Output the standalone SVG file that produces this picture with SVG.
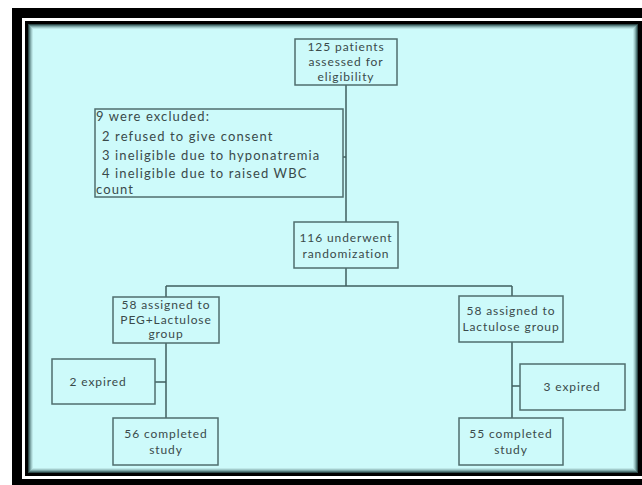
<svg xmlns="http://www.w3.org/2000/svg" width="642" height="485" viewBox="0 0 642 485">
<style>
.box{fill:none;stroke:#4f6e6e;stroke-width:1.5}
.ln{fill:none;stroke:#3f5f5f;stroke-width:1.5}
text{font-family:Lato,"Liberation Sans",sans-serif;font-size:12px;letter-spacing:0.9px;fill:#3a4a4a}
.c{text-anchor:middle}
.x{font-size:13px;letter-spacing:1.1px}
</style>
<rect x="0" y="0" width="642" height="485" fill="#ffffff"/>
<rect x="12" y="8" width="630" height="477" fill="#000000"/>
<rect x="22" y="18" width="620" height="461" fill="#ffffff"/>
<rect x="25" y="21" width="617" height="455" fill="#000000"/>
<rect x="28" y="24" width="610" height="449" fill="#2d4848"/>
<rect x="29" y="25" width="608" height="447" fill="#557c7c"/>
<rect x="30" y="26" width="606" height="445" fill="#7fa8a8"/>
<rect x="31" y="27" width="604" height="443" fill="#a2cccc"/>
<rect x="32" y="28" width="602" height="441" fill="#bde8e8"/>
<rect x="33" y="29" width="600" height="439" fill="#cdfafa"/>
<g id="connectors">
<path class="ln" d="M346 85V222M343 157H346M346 268V286M166 286H512M166 286V297M512 286V296M166 343V418M155 382H166M512 342V418M512 386H520"/>
</g>
<g id="n1"><rect class="box" x="295" y="39" width="102" height="46"/>
<text class="c" x="346" y="51">125 patients</text>
<text class="c" x="346" y="66">assessed for</text>
<text class="c" x="346" y="81">eligibility</text></g>
<g id="n2"><rect class="box" x="95" y="109" width="248" height="88"/>
<text class="x" x="96" y="121">9 were excluded:</text>
<text class="x" x="102" y="141">2 refused to give consent</text>
<text class="x" x="102" y="160">3 ineligible due to hyponatremia</text>
<text class="x" x="102" y="178">4 ineligible due to raised WBC</text>
<text class="x" x="96" y="194">count</text></g>
<g id="n3"><rect class="box" x="294" y="222" width="104" height="46"/>
<text class="c" x="346" y="242">116 underwent</text>
<text class="c" x="346" y="258">randomization</text></g>
<g id="n4"><rect class="box" x="113" y="297" width="106" height="46"/>
<text class="c" x="166" y="309">58 assigned to</text>
<text class="c" x="166" y="323.5">PEG+Lactulose</text>
<text class="c" x="166" y="338">group</text></g>
<g id="n5"><rect class="box" x="459" y="296" width="104" height="46"/>
<text class="c" x="511" y="315">58 assigned to</text>
<text class="c" x="511" y="331">Lactulose group</text></g>
<g id="n6"><rect class="box" x="52" y="359" width="103" height="45"/>
<text class="c" x="98" y="386">2 expired</text></g>
<g id="n7"><rect class="box" x="520" y="364" width="105" height="46"/>
<text class="c" x="572" y="391">3 expired</text></g>
<g id="n8"><rect class="box" x="113" y="418" width="105" height="47"/>
<text class="c" x="166" y="438">56 completed</text>
<text class="c" x="166" y="454">study</text></g>
<g id="n9"><rect class="box" x="459" y="418" width="104" height="47"/>
<text class="c" x="511" y="438">55 completed</text>
<text class="c" x="511" y="454">study</text></g>
</svg>
